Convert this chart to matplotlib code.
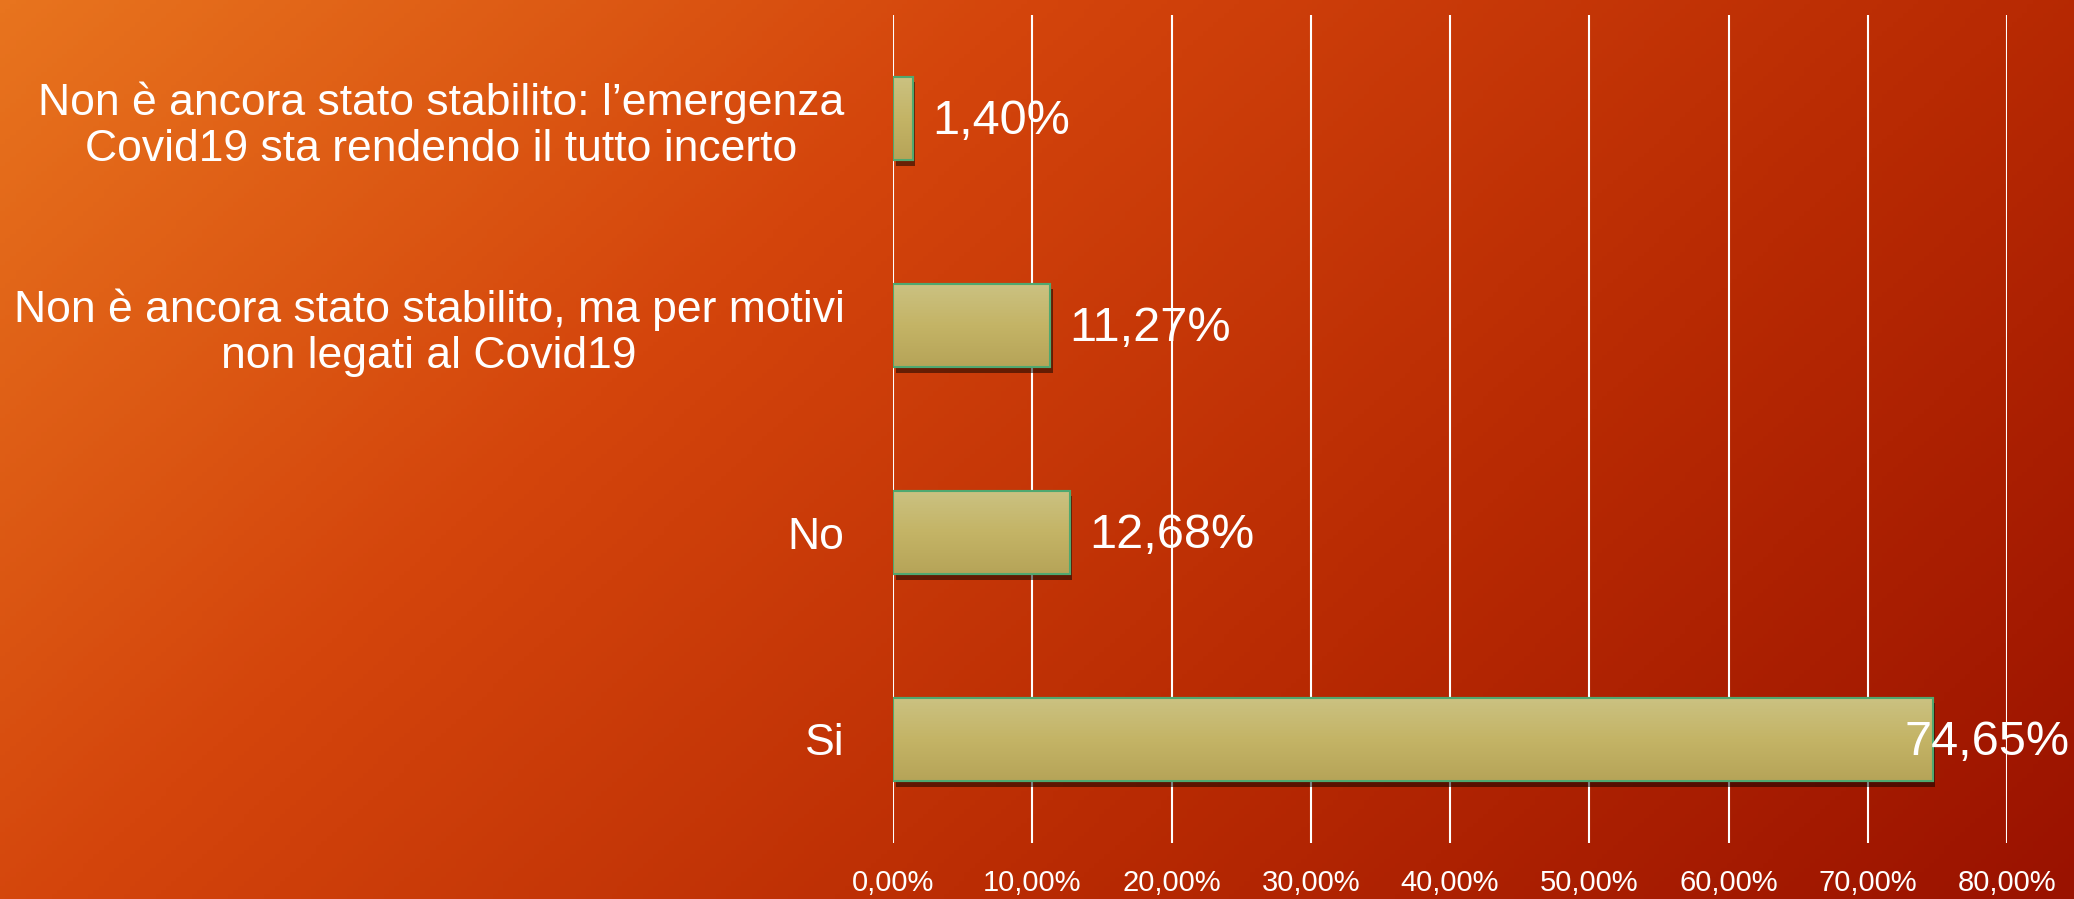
import numpy as np
import matplotlib.pyplot as plt
from matplotlib.colors import LinearSegmentedColormap
import matplotlib.patheffects as pe

categories = [
    'Non è ancora stato stabilito: l\u2019emergenza\nCovid19 sta rendendo il tutto incerto',
    'Non è ancora stato stabilito, ma per motivi\nnon legati al Covid19',
    'No',
    'Si',
]
values = [1.40, 11.27, 12.68, 74.65]
value_labels = ['1,40%', '11,27%', '12,68%', '74,65%']
xticks = [0, 10, 20, 30, 40, 50, 60, 70, 80]
xtick_labels = ['0,00%', '10,00%', '20,00%', '30,00%', '40,00%', '50,00%', '60,00%', '70,00%', '80,00%']

plt.rcParams['font.family'] = ['Liberation Sans', 'DejaVu Sans']

fig = plt.figure(figsize=(20.74, 8.99), dpi=100)

# background gradient (orange top-left -> dark red bottom-right)
bg = fig.add_axes([0, 0, 1, 1])
bg.axis('off')
gx, gy = np.meshgrid(np.linspace(0, 1, 400), np.linspace(0, 1, 200))
t = 0.68 * gx + 0.32 * gy
bg_cmap = LinearSegmentedColormap.from_list('bg', ['#E8741E', '#D4450C', '#B82A03', '#9A1200'])
bg.imshow(t, cmap=bg_cmap, aspect='auto', extent=[0, 1, 1, 0])
bg.set_xlim(0, 1)
bg.set_ylim(1, 0)

ax = fig.add_axes([0.4306, 0.0623, 0.9677 - 0.4306, 0.9833 - 0.0623])
ax.patch.set_alpha(0)
y = np.arange(len(categories))
bars = ax.barh(y, values, height=0.405, color='#C4B46A', edgecolor='#4FA870',
               linewidth=1.5, zorder=3)

bar_cmap = LinearSegmentedColormap.from_list('bar', ['#CBC282', '#C4B466', '#B6A458'])
grad = np.linspace(0, 1, 100).reshape(-1, 1)
for b in bars:
    b.set_path_effects([pe.SimplePatchShadow(offset=(2, -4), shadow_rgbFace='black', alpha=0.5), pe.Normal()])
    x0, y0, w, h = b.get_x(), b.get_y(), b.get_width(), b.get_height()
    im = ax.imshow(grad, cmap=bar_cmap, aspect='auto', extent=[x0, x0 + w, y0 + h, y0], zorder=3.5)
    im.set_clip_path(b)
    ax.barh(b.get_y() + h / 2, w, height=h, left=x0, fill=False, edgecolor='#4FA870', linewidth=1.5, zorder=4)

for v, lab, yy in zip(values, value_labels, y):
    off = -20 if v > 70 else 14
    ax.annotate(lab, (v, yy), xytext=(off, -2), textcoords='offset points', ha='left', va='center',
                color='white', fontsize=35, zorder=5)

ax.set_xlim(0, 80)
ax.set_ylim(len(categories) - 0.5, -0.5)
ax.set_xticks(xticks)
ax.set_xticklabels(xtick_labels, fontsize=21, color='white')
ax.set_yticks(y)
ax.set_yticklabels(categories, fontsize=32, color='white', multialignment='center', linespacing=1.15)
ax.tick_params(axis='x', length=0, pad=19)
ax.tick_params(axis='y', length=0, pad=35)
ax.grid(axis='x', color='white', linewidth=1.5, zorder=1)
ax.set_axisbelow(True)
for s in ax.spines.values():
    s.set_visible(False)

fig.savefig('out.png', dpi=100)
